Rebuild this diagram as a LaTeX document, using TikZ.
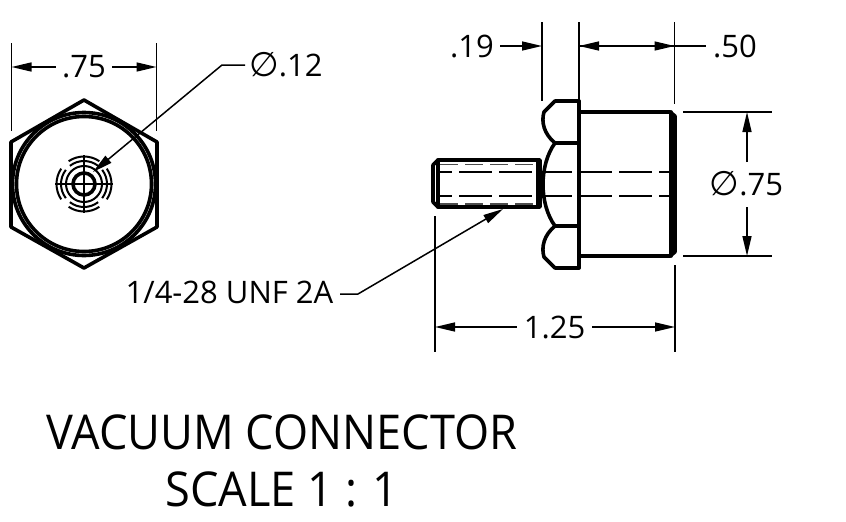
\documentclass[tikz,border=0pt]{standalone}
\usepackage{fontspec}
\setmainfont{Open Sans}
\newfontfamily\symfont{DejaVu Sans}
\newfontfamily\titlefont[FakeStretch=0.94]{Open Sans}
\usetikzlibrary{arrows.meta}
\newcommand{\dia}{{\symfont\fontsize{34}{34}\selectfont\char"2205}}
\tikzset{
  part/.style={line width=3.6pt,line join=round,line cap=round},
  partthin/.style={line width=2pt},
  hidden/.style={line width=2.5pt,dash pattern=on 33pt off 7pt},
  thread/.style={line width=1.5pt,black!70,dash pattern=on 18pt off 7pt},
  dim/.style={line width=1.5pt},
  dimarrow/.style={dim,-{Stealth[length=20pt,width=9pt,inset=0pt]}},
  dimtext/.style={font=\fontsize{31}{31}\selectfont,inner sep=0pt},
  titletext/.style={font=\titlefont\fontsize{48}{48}\selectfont,inner sep=0pt}
}
\begin{document}
\begin{tikzpicture}[x=1pt,y=-1pt]
\useasboundingbox (0,0) rectangle (846,522);
%%%END VIEW
\draw[part] (84,100) -- (157,142) -- (157,227) -- (84,268) -- (11,227) -- (11,142) -- cycle;
\draw[part] (84,184) circle (71.5);
\draw[part] (84,184) circle (67.5);
\draw[part] (84,184) circle (11);
\draw[partthin] (84,184) circle (18);
\draw[dim] (55,184) -- (113,184);
\draw[dim] (84,155) -- (84,213);
\foreach \ang in {0,90,180,270}{
  \draw[partthin] (84,184) ++(\ang-38:23) arc[start angle=\ang-38,end angle=\ang+38,radius=23];
  \draw[partthin] (84,184) ++(\ang-34:27.5) arc[start angle=\ang-34,end angle=\ang+34,radius=27.5];
}
%%%SIDE VIEW
\draw[part] (433,165) -- (438,160) -- (540,160) -- (540,207) -- (438,207) -- (433,202) -- cycle;
\draw[part] (438,160) -- (438,207);
\draw[partthin] (537,160) -- (537,207);
\draw[part] (579,101) -- (555,101) -- (544,112) .. controls (541,122) and (544,134) .. (555,143) -- (579,143);
\draw[part] (579,268) -- (555,268) -- (544,257) .. controls (541,247) and (544,235) .. (555,226) -- (579,226);
\draw[part] (579,101) -- (579,268);
\draw[part] (555,143) .. controls (539,165) and (539,204) .. (555,226);
\draw[part] (579,112) -- (670,112) -- (675,116) -- (675,252) -- (670,256) -- (579,256);
\draw[part] (671,112) -- (671,256);
%%%HIDDEN LINES
\draw[thread] (440,164.5) -- (537,164.5);
\draw[thread] (440,204) -- (537,204);
\draw[hidden,dash phase=21pt] (440,172) -- (537,172);
\draw[hidden,dash phase=21pt] (440,196) -- (537,196);
\draw[hidden,dash phase=6pt] (545,172) -- (670,172);
\draw[hidden,dash phase=6pt] (545,196) -- (670,196);
%%%DIMENSIONS
\node[dimtext] (widthend) at (84,67) {.75};
\coordinate (widthl) at (11.5,67);
\coordinate (widthr) at (156.5,67);
\draw[dim] (11.5,43) -- (11.5,131);
\draw[dim] (156.5,43) -- (156.5,131);
\draw[dimarrow] ([xshift=-6pt]widthend.west) -- (widthl);
\draw[dimarrow] ([xshift=6pt]widthend.east) -- (widthr);

\node[dimtext,anchor=west] (borelabel) at (249,65) {\dia.12};
\coordinate (borebend) at (222,65);
\coordinate (boretip) at (93,172);
\draw[dimarrow] ([xshift=-4pt]borelabel.west) -- (borebend) -- (boretip);

\node[dimtext,anchor=east] (hexlabel) at (494,46) {.19};
\coordinate (hexl) at (542,46);
\coordinate (hexr) at (579,46);
\coordinate (bodyr) at (674.5,46);
\node[dimtext,anchor=west] (bodylabel) at (713,46) {.50};
\draw[dim] (542,22) -- (542,101);
\draw[dim] (579,22) -- (579,101);
\draw[dim] (674.5,22) -- (674.5,104);
\draw[dimarrow] ([xshift=6pt]hexlabel.east) -- (hexl);
\draw[dimarrow] (bodyr) -- (hexr);
\draw[dimarrow] (hexr) -- (bodyr);
\draw[dim] (bodyr) -- ([xshift=-7pt]bodylabel.west);

\node[dimtext] (bodydia) at (746.5,184) {\dia.75};
\coordinate (bodyt) at (747,112);
\coordinate (bodyb) at (747,256);
\coordinate (bodyta) at (747,162);
\coordinate (bodyba) at (747,207);
\draw[dim] (683,112) -- (772,112);
\draw[dim] (683,256) -- (772,256);
\draw[dimarrow] (bodyta) -- (bodyt);
\draw[dimarrow] (bodyba) -- (bodyb);

\node[dimtext,anchor=east] (threadlabel) at (333.5,292.5) {1/4-28 UNF 2A};
\coordinate (threadstart) at (340,294);
\coordinate (threadbend) at (358,294);
\coordinate (threadtip) at (503,209);
\draw[dimarrow] (threadstart) -- (threadbend) -- (threadtip);

\node[dimtext] (lengthlabel) at (554.5,327) {1.25};
\coordinate (lengthl) at (435,327);
\coordinate (lengthr) at (675,327);
\draw[dim] (435,216) -- (435,352);
\draw[dim] (675,265) -- (675,352);
\draw[dimarrow] ([xshift=-7pt]lengthlabel.west) -- (lengthl);
\draw[dimarrow] ([xshift=7pt]lengthlabel.east) -- (lengthr);
%%%TITLE
\node[titletext] (title) at (282,432) {VACUUM CONNECTOR};
\node[titletext] (scalelabel) at (282,489) {SCALE 1 : 1};
\end{tikzpicture}
\end{document}
